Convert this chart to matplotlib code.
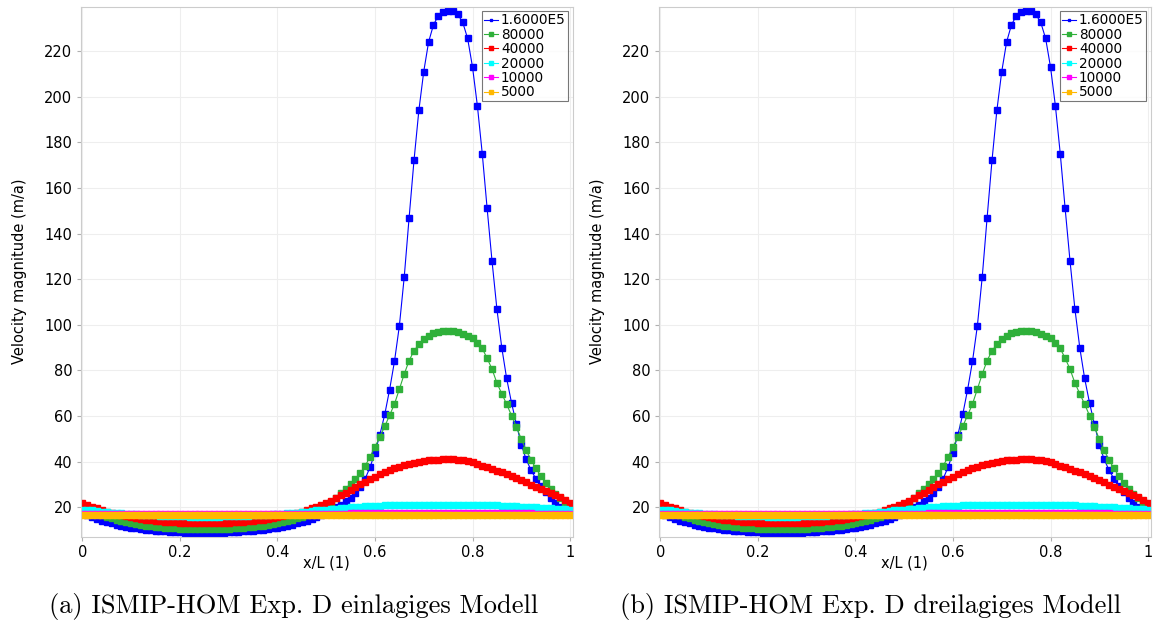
import numpy as np
import matplotlib
matplotlib.use("Agg")
import matplotlib.pyplot as plt

# x/L sample positions (0 .. 1, step 0.01)
x = np.linspace(0.0, 1.0, 101)

labels = ["1.6000E5", "80000", "40000", "20000", "10000", "5000"]
colors = ["#0000ff", "#2fb03a", "#ff0000", "#00ffff", "#ff00ff", "#ffb800"]

v_160k = [
    17.6, 16.6, 15.6, 14.8, 14.1, 13.4, 12.9, 12.3, 11.9, 11.5,
    11.1, 10.8, 10.4, 10.2, 9.9, 9.7, 9.5, 9.4, 9.2, 9.1,
    9.0, 8.9, 8.9, 8.8, 8.8, 8.8, 8.8, 8.8, 8.9, 8.9,
    9.0, 9.1, 9.2, 9.4, 9.5, 9.7, 9.9, 10.2, 10.4, 10.8,
    11.1, 11.5, 11.9, 12.3, 12.9, 13.4, 14.1, 14.8, 15.6, 16.6,
    17.6, 18.7, 19.9, 21.2, 22.6, 24.2, 26.2, 28.8, 32.6, 37.6,
    44.0, 51.8, 60.7, 71.6, 84.0, 99.5, 121.0, 147.0, 172.0, 194.0,
    211.0, 224.0, 231.5, 235.5, 237.2, 237.6, 237.4, 236.0, 232.5, 225.5,
    213.0, 196.0, 175.0, 151.0, 128.0, 107.0, 90.0, 76.5, 65.8, 56.5,
    47.5, 41.0, 36.3, 32.5, 29.3, 26.6, 24.2, 22.0, 20.3, 18.9,
    17.6,
]
v_80k = [
    20.5, 19.3, 18.3, 17.4, 16.6, 15.9, 15.2, 14.6, 14.1, 13.6,
    13.1, 12.7, 12.4, 12.0, 11.7, 11.5, 11.2, 11.0, 10.9, 10.7,
    10.6, 10.5, 10.5, 10.4, 10.4, 10.4, 10.4, 10.4, 10.5, 10.5,
    10.6, 10.7, 10.9, 11.0, 11.2, 11.5, 11.7, 12.0, 12.4, 12.7,
    13.1, 13.6, 14.1, 14.6, 15.2, 15.9, 16.6, 17.4, 18.3, 19.3,
    20.5, 22.2, 24.2, 26.2, 28.2, 30.3, 32.5, 35.0, 38.2, 42.2,
    46.5, 50.9, 55.5, 60.3, 65.3, 71.8, 78.4, 84.3, 88.6, 91.4,
    93.6, 95.2, 96.2, 96.8, 97.1, 97.2, 97.1, 96.8, 96.1, 95.1,
    94.0, 92.1, 89.6, 85.3, 80.6, 74.5, 69.8, 65.2, 60.2, 55.2,
    50.0, 45.0, 40.8, 37.0, 33.8, 30.8, 28.2, 25.9, 23.9, 22.1,
    20.5,
]
v_40k = [
    22.0, 21.1, 20.3, 19.5, 18.8, 18.1, 17.5, 17.0, 16.5, 16.1,
    15.7, 15.3, 14.9, 14.6, 14.4, 14.1, 13.9, 13.7, 13.5, 13.4,
    13.3, 13.2, 13.1, 13.1, 13.0, 13.0, 13.0, 13.1, 13.1, 13.2,
    13.3, 13.4, 13.5, 13.7, 13.9, 14.1, 14.4, 14.6, 14.9, 15.3,
    15.7, 16.1, 16.5, 17.0, 17.5, 18.1, 18.8, 19.5, 20.3, 21.1,
    22.0, 22.9, 24.0, 25.2, 26.4, 27.6, 28.8, 30.0, 31.2, 32.3,
    33.4, 34.4, 35.4, 36.3, 37.1, 37.8, 38.5, 39.1, 39.6, 40.0,
    40.3, 40.6, 40.8, 40.9, 41.0, 41.0, 41.0, 40.9, 40.7, 40.3,
    39.8, 39.1, 38.3, 37.6, 36.9, 36.1, 35.3, 34.5, 33.8, 33.0,
    32.0, 30.9, 29.9, 28.9, 28.0, 27.1, 26.3, 25.3, 24.3, 23.1,
    22.0,
]
v_20k = [
    19.0, 18.8, 18.6, 18.3, 18.1, 17.9, 17.7, 17.5, 17.4, 17.2,
    17.1, 16.9, 16.8, 16.6, 16.5, 16.4, 16.3, 16.2, 16.2, 16.1,
    16.0, 16.0, 15.9, 15.9, 15.9, 15.9, 15.9, 15.9, 15.9, 16.0,
    16.0, 16.1, 16.2, 16.2, 16.3, 16.4, 16.5, 16.6, 16.8, 16.9,
    17.1, 17.2, 17.4, 17.5, 17.7, 17.9, 18.1, 18.3, 18.6, 18.8,
    19.0, 19.2, 19.4, 19.6, 19.8, 19.95, 20.1, 20.25, 20.4, 20.5,
    20.6, 20.7, 20.8, 20.85, 20.9, 20.95, 21.0, 21.05, 21.1, 21.1,
    21.15, 21.15, 21.2, 21.2, 21.2, 21.2, 21.2, 21.2, 21.2, 21.15,
    21.1, 21.05, 21.0, 20.95, 20.9, 20.8, 20.7, 20.6, 20.5, 20.4,
    20.3, 20.2, 20.1, 20.0, 19.85, 19.7, 19.55, 19.4, 19.3, 19.15,
    19.0,
]
v_10k = [
    17.2, 17.2, 17.2, 17.2, 17.15, 17.15, 17.1, 17.1, 17.1, 17.1,
    17.05, 17.05, 17.05, 17.05, 17.0, 17.0, 17.0, 17.0, 17.0, 17.0,
    17.0, 17.0, 17.0, 17.0, 17.0, 17.0, 17.0, 17.0, 17.0, 17.0,
    17.0, 17.0, 17.0, 17.0, 17.0, 17.0, 17.0, 17.05, 17.05, 17.05,
    17.05, 17.1, 17.1, 17.1, 17.1, 17.15, 17.15, 17.2, 17.2, 17.2,
    17.2, 17.2, 17.25, 17.25, 17.25, 17.3, 17.3, 17.3, 17.3, 17.35,
    17.35, 17.35, 17.35, 17.35, 17.4, 17.4, 17.4, 17.4, 17.4, 17.4,
    17.4, 17.4, 17.4, 17.4, 17.4, 17.4, 17.4, 17.4, 17.4, 17.4,
    17.4, 17.4, 17.4, 17.4, 17.35, 17.35, 17.35, 17.35, 17.35, 17.3,
    17.3, 17.3, 17.3, 17.25, 17.25, 17.25, 17.2, 17.2, 17.2, 17.2,
    17.2,
]
v_5k = [
    16.5, 16.5, 16.5, 16.5, 16.5, 16.5, 16.45, 16.45, 16.45, 16.45,
    16.45, 16.45, 16.4, 16.4, 16.4, 16.4, 16.4, 16.4, 16.4, 16.4,
    16.4, 16.4, 16.4, 16.4, 16.4, 16.4, 16.4, 16.4, 16.4, 16.4,
    16.4, 16.4, 16.4, 16.4, 16.4, 16.4, 16.4, 16.4, 16.4, 16.45,
    16.45, 16.45, 16.45, 16.45, 16.45, 16.5, 16.5, 16.5, 16.5, 16.5,
    16.5, 16.5, 16.5, 16.5, 16.55, 16.55, 16.55, 16.55, 16.55, 16.6,
    16.6, 16.6, 16.6, 16.6, 16.6, 16.6, 16.6, 16.6, 16.6, 16.6,
    16.6, 16.6, 16.6, 16.6, 16.6, 16.6, 16.6, 16.6, 16.6, 16.6,
    16.6, 16.6, 16.6, 16.6, 16.6, 16.6, 16.6, 16.6, 16.6, 16.6,
    16.6, 16.6, 16.6, 16.55, 16.55, 16.55, 16.55, 16.55, 16.5, 16.5,
    16.5,
]
series = [v_160k, v_80k, v_40k, v_20k, v_10k, v_5k]

xticks = [0, 0.2, 0.4, 0.6, 0.8, 1]
xticklabels = ["0", "0.2", "0.4", "0.6", "0.8", "1"]
yticks = list(range(20, 221, 20))

captions = ["(a) ISMIP-HOM Exp. D einlagiges Modell",
            "(b) ISMIP-HOM Exp. D dreilagiges Modell"]
caption_x = [293.5, 870.5]

W, H = 1153, 626
fig = plt.figure(figsize=(W / 100, H / 100), dpi=100)


def draw_panel(left_px):
    ax = fig.add_axes([left_px / W, (H - 536.7) / H, 492.2 / W, 530.2 / H])
    for i, (vals, col, lab) in enumerate(zip(series, colors, labels)):
        ms = 3.7 if i == 0 else 4.7
        ax.plot(x, vals, color=col, lw=0.8, marker="s", ms=ms,
                mec=col, mfc=col, label=lab)
    ax.set_xlim(-0.004, 1.0055)
    ax.set_ylim(7.1, 239.5)
    ax.set_xticks(xticks)
    ax.set_xticklabels(xticklabels)
    ax.set_yticks(yticks)
    ax.tick_params(labelsize=10.5, length=3, color="#b0b0b0", pad=3)
    ax.grid(True, color="#eeeeee", lw=0.8)
    ax.set_axisbelow(True)
    for sp in ax.spines.values():
        sp.set_color("#cccccc")
        sp.set_linewidth(0.8)
    ax.set_xlabel("x/L (1)", fontsize=10.5, labelpad=-3)
    ax.set_ylabel("Velocity magnitude (m/a)", fontsize=10.5, labelpad=12)
    leg = ax.legend(loc="upper right", fontsize=9.8, frameon=True,
                    fancybox=False, borderaxespad=0.35, borderpad=0.15,
                    labelspacing=0.03, handlelength=1.0, handletextpad=0.25,
                    markerscale=0.55)
    leg.get_frame().set_edgecolor("#555555")
    leg.get_frame().set_linewidth(0.8)
    return ax


draw_panel(80.5)
draw_panel(658.5)

for cx, cap in zip(caption_x, captions):
    fig.text(cx / W, 1 - 607 / H, cap, ha="center", va="center",
             fontsize=19, family="cmr10")

fig.savefig("out.png", dpi=100)
